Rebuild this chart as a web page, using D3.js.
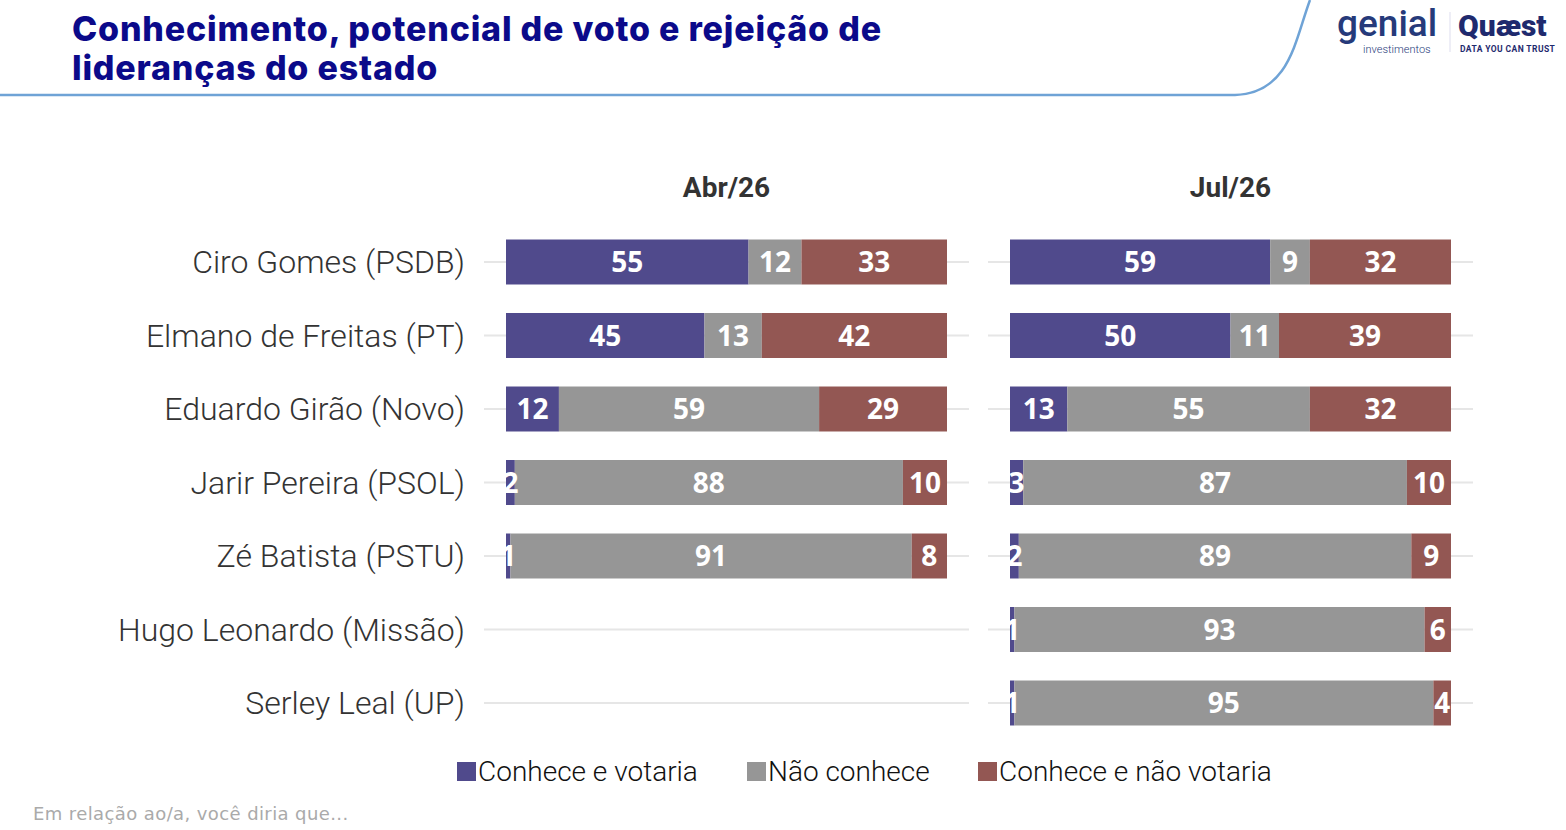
<!DOCTYPE html>
<html>
<head>
<meta charset="utf-8">
<script src="https://cdn.jsdelivr.net/npm/d3@7"></script>
<style>
  body { margin: 0; background: #fff; }
  svg { display: block; }
</style>
</head>
<body>
<div id="chart"></div>
<script>
// data
const candidates = ["Ciro Gomes (PSDB)", "Elmano de Freitas (PT)", "Eduardo Girão (Novo)",
    "Jarir Pereira (PSOL)", "Zé Batista (PSTU)", "Hugo Leonardo (Missão)", "Serley Leal (UP)"];
const periods = ["Abr/26", "Jul/26"];
const categories = ["Conhece e votaria", "Não conhece", "Conhece e não votaria"];
const abrVotaria    = [55, 45, 12, 2, 1, null, null];
const abrNaoConhece = [12, 13, 59, 88, 91, null, null];
const abrRejeicao   = [33, 42, 29, 10, 8, null, null];
const julVotaria    = [59, 50, 13, 3, 2, 1, 1];
const julNaoConhece = [9, 11, 55, 87, 89, 93, 95];
const julRejeicao   = [32, 39, 32, 10, 9, 6, 4];

const colors = ["#504a8c", "#969696", "#935753"];
const W = 1566, H = 830;

const svg = d3.select("#chart").append("svg")
    .attr("width", W).attr("height", H)
    .style("font-family", "Roboto, sans-serif");

// Header
const titleLines = ["Conhecimento, potencial de voto e rejeição de", "lideranças do estado"];
svg.append("g").selectAll("text").data(titleLines).join("text")
    .attr("x", 72).attr("y", (d, i) => 41 + i * 39)
    .attr("fill", "#0b0a8a")
    .style("font-family", "Inter, sans-serif")
    .style("font-size", "34px").style("font-weight", 800)
    .style("letter-spacing", "0.8px")
    .text(d => d);

svg.append("path")
    .attr("d", "M0,95 L1235,95 C1290,93 1295,40 1310,0")
    .attr("fill", "none").attr("stroke", "#6fa3d6").attr("stroke-width", 2.5);

// Logos (approximation in text)
svg.append("text").attr("x", 1337).attr("y", 36)
    .attr("fill", "#263a7a").style("font-size", "37px").style("font-weight", 500)
    .text("genial");
svg.append("text").attr("x", 1363).attr("y", 53)
    .attr("fill", "#263a7a").style("font-size", "11px").style("font-weight", 300)
    .text("investimentos");
svg.append("line").attr("x1", 1450).attr("x2", 1450).attr("y1", 12).attr("y2", 52)
    .attr("stroke", "#dde").attr("stroke-width", 1);
svg.append("text").attr("x", 1458).attr("y", 36)
    .attr("fill", "#1f2a6e").style("font-size", "30px").style("font-weight", 900)
    .text("Quæst");
svg.append("text").attr("x", 1460).attr("y", 52)
    .attr("fill", "#1f2a6e").style("font-size", "8.5px").style("font-weight", 700)
    .style("letter-spacing", "0.4px")
    .text("DATA YOU CAN TRUST");

// Scales
const y = d3.scaleBand().domain(candidates)
    .range([225.25, 739.75]).paddingInner(0.388).paddingOuter(0.194);
const x = d3.scaleLinear().domain([0, 100]).range([0, 441]);
const panelX = d3.scaleOrdinal().domain(periods).range([506, 1010]);

// Row labels
svg.append("g").selectAll("text").data(candidates).join("text")
    .attr("x", 465).attr("y", d => y(d) + y.bandwidth() / 2)
    .attr("text-anchor", "end").attr("dy", "0.35em")
    .attr("fill", "#333").style("font-size", "32px").style("font-weight", 300)
    .text(d => d);

const series = {
    "Abr/26": [abrVotaria, abrNaoConhece, abrRejeicao],
    "Jul/26": [julVotaria, julNaoConhece, julRejeicao]
};

periods.forEach(p => {
    const g = svg.append("g").attr("transform", `translate(${panelX(p)},0)`);

    g.append("text").attr("x", x(50)).attr("y", 197)
        .attr("text-anchor", "middle").attr("fill", "#333")
        .style("font-size", "28px").style("font-weight", 700)
        .text(p);

    // gridlines
    g.append("g").selectAll("line").data(candidates).join("line")
        .attr("x1", -22).attr("x2", x(100) + 22)
        .attr("y1", d => y(d) + y.bandwidth() / 2)
        .attr("y2", d => y(d) + y.bandwidth() / 2)
        .attr("stroke", "#e6e6e6").attr("stroke-width", 2);

    const rows = candidates.map((c, i) => {
        const vals = series[p].map(s => s[i]);
        return { name: c, vals };
    }).filter(r => r.vals[0] != null);

    const segs = [];
    rows.forEach(r => {
        let acc = 0;
        r.vals.forEach((v, k) => {
            segs.push({ name: r.name, k, v, x0: acc, x1: acc + v });
            acc += v;
        });
    });

    g.append("g").selectAll("rect").data(segs).join("rect")
        .attr("x", d => x(d.x0)).attr("width", d => x(d.x1) - x(d.x0))
        .attr("y", d => y(d.name)).attr("height", y.bandwidth())
        .attr("fill", d => colors[d.k]);

    g.append("g").selectAll("text").data(segs).join("text")
        .attr("x", d => x((d.x0 + d.x1) / 2))
        .attr("y", d => y(d.name) + y.bandwidth() / 2)
        .attr("dy", "0.36em").attr("text-anchor", "middle")
        .attr("fill", "#fff")
        .style("font-family", "'Open Sans', sans-serif")
        .style("font-size", "28px").style("font-weight", 700)
        .text(d => d.v);
});

// Legend
const legendX = [457, 747, 978];
const legend = svg.append("g").selectAll("g").data(categories).join("g")
    .attr("transform", (d, i) => `translate(${legendX[i]},762)`);
legend.append("rect").attr("width", 19).attr("height", 19)
    .attr("fill", (d, i) => colors[i]);
legend.append("text").attr("x", 21).attr("y", 19)
    .attr("fill", "#111").style("font-size", "28px").style("font-weight", 300)
    .text(d => d);

svg.append("text").attr("x", 33).attr("y", 820)
    .attr("fill", "#aaa").style("font-size", "18px")
    .style("font-family", "'DejaVu Sans', sans-serif")
    .style("letter-spacing", "0.4px")
    .text("Em relação ao/a, você diria que...");
</script>
</body>
</html>
